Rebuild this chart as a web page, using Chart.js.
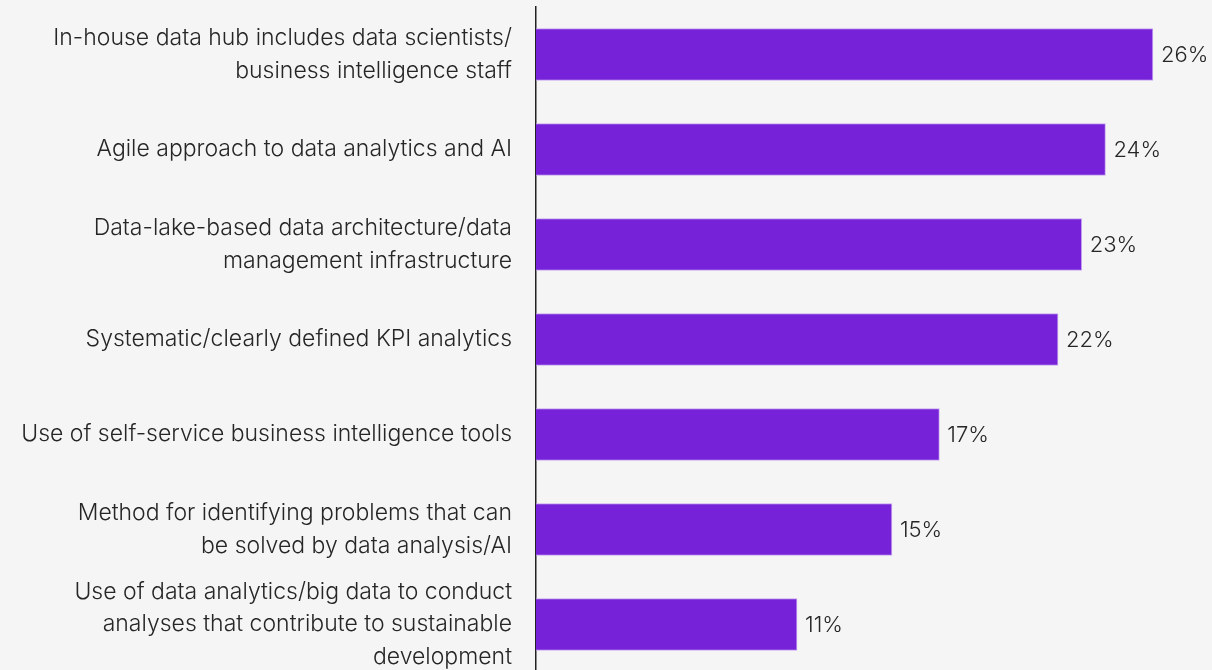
<!DOCTYPE html>
<html>
<head>
<meta charset="utf-8">
<script src="https://cdn.jsdelivr.net/npm/chart.js@4.4.1/dist/chart.umd.min.js"></script>
<style>
  html, body { margin: 0; padding: 0; background: #f5f5f5; overflow: hidden; }
  #wrap { position: relative; width: 1212px; height: 672px; }
</style>
</head>
<body>
<div id="wrap"><canvas id="chart"></canvas></div>
<script>
const categories = [
    ['In-house data hub includes data scientists/', 'business intelligence staff'],
    'Agile approach to data analytics and AI',
    ['Data-lake-based data architecture/data', 'management infrastructure'],
    'Systematic/clearly defined KPI analytics',
    'Use of self-service business intelligence tools',
    ['Method for identifying problems that can', 'be solved by data analysis/AI'],
    ['Use of data analytics/big data to conduct', 'analyses that contribute to sustainable', 'development']
];
const values = [26, 24, 23, 22, 17, 15, 11];

Chart.defaults.font.family = "Inter, 'Noto Sans', sans-serif";
Chart.defaults.color = '#262626';

// value labels at the end of each bar
const valueLabels = {
    id: 'valueLabels',
    afterDatasetsDraw(chart) {
        const ctx = chart.ctx;
        const meta = chart.getDatasetMeta(0);
        ctx.save();
        ctx.font = "300 22px Inter, 'Noto Sans', sans-serif";
        ctx.fillStyle = '#262626';
        ctx.textAlign = 'left';
        ctx.textBaseline = 'middle';
        meta.data.forEach((bar, i) => {
            ctx.fillText(values[i] + '%', bar.x + 8, bar.y + 1);
        });
        ctx.restore();
    }
};

new Chart(document.getElementById('chart'), {
    type: 'bar',
    data: {
        labels: categories,
        datasets: [{
            data: values,
            backgroundColor: '#7522d9',
            borderColor: '#c9a6f0',
            borderWidth: 1,
            barThickness: 52
        }]
    },
    options: {
        indexAxis: 'y',
        responsive: true,
        maintainAspectRatio: false,
        animation: false,
        layout: { padding: { top: 7, right: 0, bottom: 0, left: 0 } },
        plugins: { legend: { display: false }, tooltip: { enabled: false } },
        scales: {
            x: {
                min: 0,
                max: 28.49,
                display: false
            },
            y: {
                grid: { display: false, drawTicks: false },
                border: { display: true, color: '#222222', width: 1.5 },
                ticks: {
                    autoSkip: false,
                    padding: 24,
                    font: { size: 23, weight: '300', lineHeight: 1.4 },
                    color: '#262626'
                },
                afterFit(axis) {
                    axis.width = 536;
                    axis.paddingTop = 0;
                    axis.paddingBottom = 0;
                }
            }
        }
    },
    plugins: [valueLabels]
});
</script>
</body>
</html>
